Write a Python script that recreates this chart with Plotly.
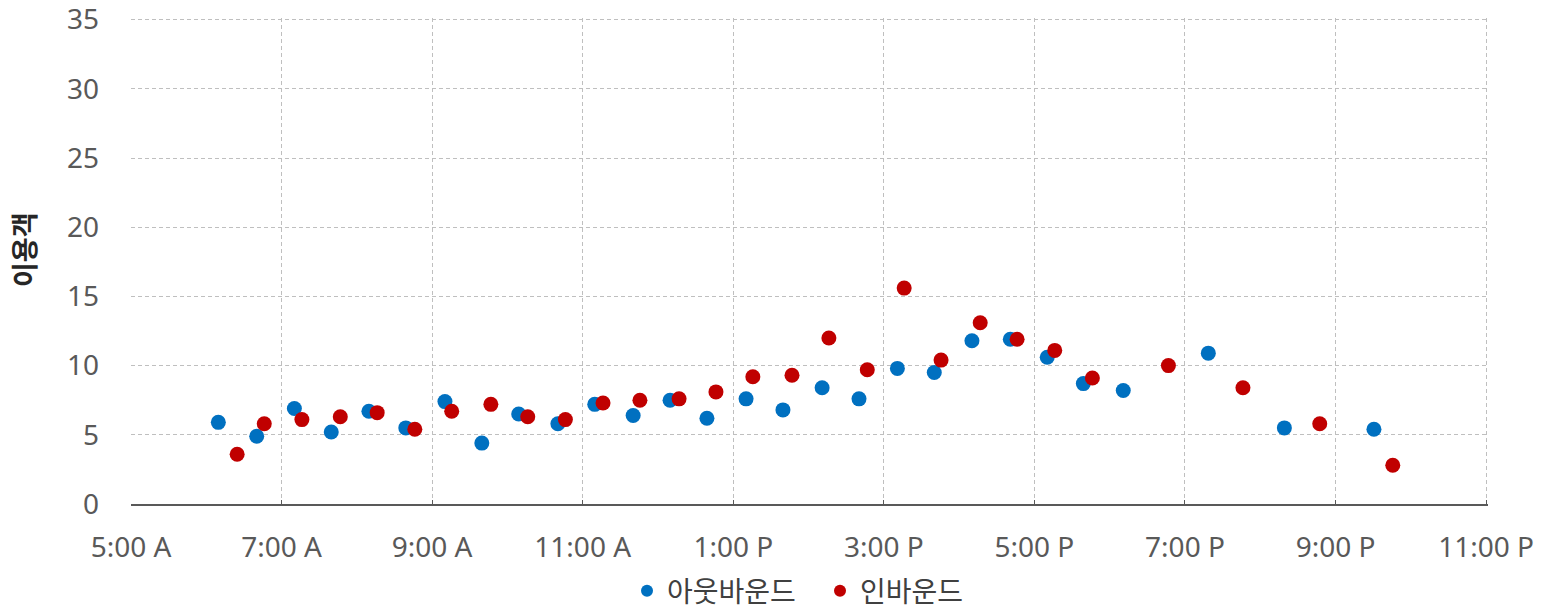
import plotly.graph_objects as go

# Times in decimal hours of day
out_time = [6.16, 6.67, 7.17, 7.66, 8.16, 8.65, 9.17, 9.66, 10.15, 10.67, 11.16, 11.67, 12.16, 12.65,
            13.17, 13.66, 14.18, 14.67, 15.18, 15.67, 16.17, 16.68, 17.17, 17.65, 18.18, 19.31, 20.32, 21.51]
out_vals = [5.9, 4.9, 6.9, 5.2, 6.7, 5.5, 7.4, 4.4, 6.5, 5.8, 7.2, 6.4, 7.5, 6.2,
            7.6, 6.8, 8.4, 7.6, 9.8, 9.5, 11.8, 11.9, 10.6, 8.7, 8.2, 10.9, 5.5, 5.4]

in_time = [6.41, 6.77, 7.27, 7.78, 8.27, 8.77, 9.26, 9.78, 10.27, 10.77, 11.27, 11.76, 12.28, 12.77,
           13.26, 13.78, 14.27, 14.78, 15.27, 15.76, 16.28, 16.77, 17.27, 17.77, 18.78, 19.77, 20.79, 21.76]
in_vals = [3.6, 5.8, 6.1, 6.3, 6.6, 5.4, 6.7, 7.2, 6.3, 6.1, 7.3, 7.5, 7.6, 8.1,
           9.2, 9.3, 12.0, 9.7, 15.6, 10.4, 13.1, 11.9, 11.1, 9.1, 10.0, 8.4, 5.8, 2.8]

tick_vals = [5, 7, 9, 11, 13, 15, 17, 19, 21, 23]
tick_text = ["5:00 A", "7:00 A", "9:00 A", "11:00 A", "1:00 P", "3:00 P", "5:00 P", "7:00 P", "9:00 P", "11:00 P"]

series_names = ["아웃바운드", "인바운드"]
colors = ["#0070C0", "#C00000"]
y_title = "이용객"

fig = go.Figure()
fig.add_trace(go.Scatter(x=out_time, y=out_vals, mode="markers", name=series_names[0],
                         marker=dict(color=colors[0], size=15, line=dict(width=0))))
fig.add_trace(go.Scatter(x=in_time, y=in_vals, mode="markers", name=series_names[1],
                         marker=dict(color=colors[1], size=15, line=dict(width=0))))

font_fam = "Noto Sans, Noto Sans CJK KR, sans-serif"
kr_fam = "Noto Sans CJK KR, sans-serif"
# page has an 8px default body margin; figure sized/margined to compensate
fig.update_layout(
    width=1547, height=600,
    margin=dict(l=123, r=67, t=10, b=104, autoexpand=False),
    paper_bgcolor="white", plot_bgcolor="white",
    font=dict(family=font_fam, size=28, color="#595959"),
    showlegend=True,
    legend=dict(orientation="h", x=(627 - 131) / 1357, xanchor="left", y=-0.179, yanchor="middle",
                font=dict(size=28, color="#404040", family=kr_fam),
                itemsizing="constant", itemwidth=30, entrywidthmode="pixels", entrywidth=148,
                bgcolor="rgba(0,0,0,0)"),
    # ranges padded slightly so the edge gridlines (35 and 11:00 P) are drawn
    xaxis=dict(range=[5, 23.025], tickvals=tick_vals, ticktext=tick_text,
               showgrid=True, gridcolor="#BFBFBF", griddash="4px,3px", gridwidth=1,
               showline=True, linecolor="#595959", linewidth=1.5,
               ticks="inside", ticklen=4, tickcolor="#595959", ticklabelstandoff=18,
               ticklabeloverflow="allow",
               tickfont=dict(size=28, color="#595959"), zeroline=False, automargin=False),
    yaxis=dict(range=[0, 35.12], dtick=5, tick0=0,
               showgrid=True, gridcolor="#BFBFBF", griddash="4px,3px", gridwidth=1,
               showline=False, zeroline=False, ticks="", ticklabelstandoff=31,
               ticklabeloverflow="allow",
               tickfont=dict(size=28, color="#595959"), automargin=False),
    annotations=[dict(text="<b>" + y_title + "</b>", xref="paper", yref="paper",
                      x=(23 - 131) / 1357, y=(504 - 250) / 486, xanchor="center", yanchor="middle",
                      textangle=-90, showarrow=False,
                      font=dict(size=27, color="#262626", family=kr_fam))],
)

fig.write_html("out.html")
